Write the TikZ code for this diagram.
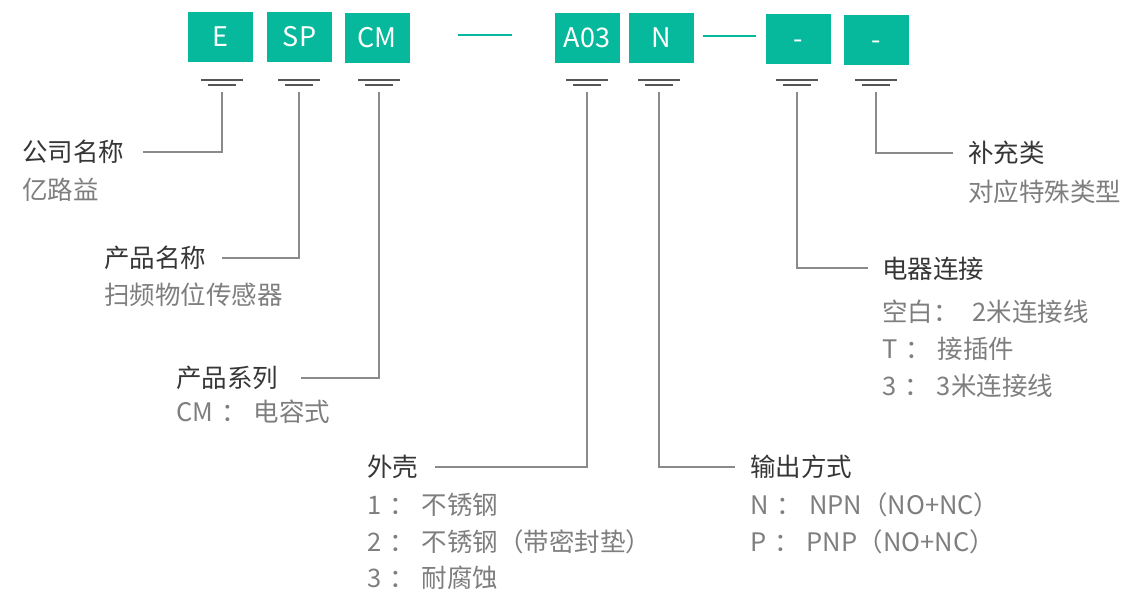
\documentclass[tikz,border=0pt]{standalone}
\usepackage{fontspec}
\setmainfont{Noto Sans CJK SC}
\definecolor{brand}{HTML}{06B99C}
\definecolor{tdark}{HTML}{363636}
\definecolor{tgray}{HTML}{7E7E7E}
\definecolor{lgray}{HTML}{8A8A8A}
\definecolor{bgray}{HTML}{555555}
\newcommand\lsep{\hspace{8pt}：\hspace{7pt}}
\newcommand\csep{：\hspace{14pt}}
\begin{document}
\begin{tikzpicture}[x=1pt,y=-1pt,
  codebox/.style={fill=brand,draw=none,minimum width=65pt,minimum height=50pt,inner sep=0pt,
    text=white,text height=19.5pt,text depth=0pt,font=\fontsize{27}{27}\selectfont},
  ttl/.style={anchor=base west,inner sep=0pt,text=tdark,font=\fontsize{25.5}{30}\selectfont},
  sub/.style={anchor=base west,inner sep=0pt,text=tgray,font=\fontsize{25.5}{30}\selectfont},
  conn/.style={draw=lgray,line width=1.4pt},
  barline/.style={draw=bgray,line width=2pt},
  dashline/.style={draw=brand,line width=1.6pt}]
\useasboundingbox (0,0) rectangle (1125,592);

% code boxes
\node[codebox] (bE)   at (220.5,37) {E};
\node[codebox] (bSP)  at (299.5,37) {SP};
\node[codebox] (bCM)  at (377,38)   {CM};
\node[codebox] (bA)   at (587,38)   {A03};
\node[codebox] (bN)   at (661.5,38) {N};
\node[codebox] (bD1)  at (798.5,39) {-};
\node[codebox] (bD2)  at (876.5,40) {-};

% teal separators
\coordinate (s1a) at (458,35); \coordinate (s1b) at (512,35);
\coordinate (s2a) at (703,36); \coordinate (s2b) at (756,36);
\draw[dashline] (s1a) -- (s1b);
\draw[dashline] (s2a) -- (s2b);

% ground-like bars and stems
\foreach \n/\x in {E/222,SP/299,CM/379,A/587,N/659,D1/797,D2/876}{
  \draw[barline] (\x-21,80) -- (\x+21,80);
  \draw[barline] (\x-14,85) -- (\x+14,85);
  \coordinate (t\n) at (\x,92);
}

% labels
\node[ttl] (lE)  at (22,161.5)  {公司名称};
\node[sub] (sE)  at (22,199.5)  {亿路益};
\node[ttl] (lSP) at (104,267.5) {产品名称};
\node[sub] (sSP) at (104,304.5) {扫频物位传感器};
\node[ttl] (lCM) at (176,387.5) {产品系列};
\node[sub] (sCM) at (176,421.5) {CM\lsep 电容式};
\node[ttl] (lA)  at (367,476.5) {外壳};
\node[sub] (sA1) at (367,514.5) {1\lsep 不锈钢};
\node[sub] (sA2) at (367,551.5) {2\lsep 不锈钢（带密封垫）};
\node[sub] (sA3) at (367,587.5) {3\lsep 耐腐蚀};
\node[ttl] (lN)  at (750,476.5) {输出方式};
\node[sub] (sN1) at (750,514.5) {N\lsep NPN（NO+NC）};
\node[sub] (sN2) at (750,551.5) {P\lsep PNP（NO+NC）};
\node[ttl] (lD1) at (882,278)   {电器连接};
\node[sub] (sD1a) at (882,321.5) {空白\csep 2米连接线};
\node[sub] (sD1b) at (882,358.5) {T\lsep 接插件};
\node[sub] (sD1c) at (882,395.5) {3\lsep 3米连接线};
\node[ttl] (lD2) at (968,162.5) {补充类};
\node[sub] (sD2) at (968,201.5) {对应特殊类型};

% connector ends
\coordinate (eE)  at (143,152);
\coordinate (eSP) at (222,258);
\coordinate (eCM) at (301,378);
\coordinate (eA)  at (435,467);
\coordinate (eN)  at (735,467);
\coordinate (eD1) at (868,268);
\coordinate (eD2) at (953,153);

\draw[conn] (tE)  |- (eE);
\draw[conn] (tSP) |- (eSP);
\draw[conn] (tCM) |- (eCM);
\draw[conn] (tA)  |- (eA);
\draw[conn] (tN)  |- (eN);
\draw[conn] (tD1) |- (eD1);
\draw[conn] (tD2) |- (eD2);
\end{tikzpicture}
\end{document}
